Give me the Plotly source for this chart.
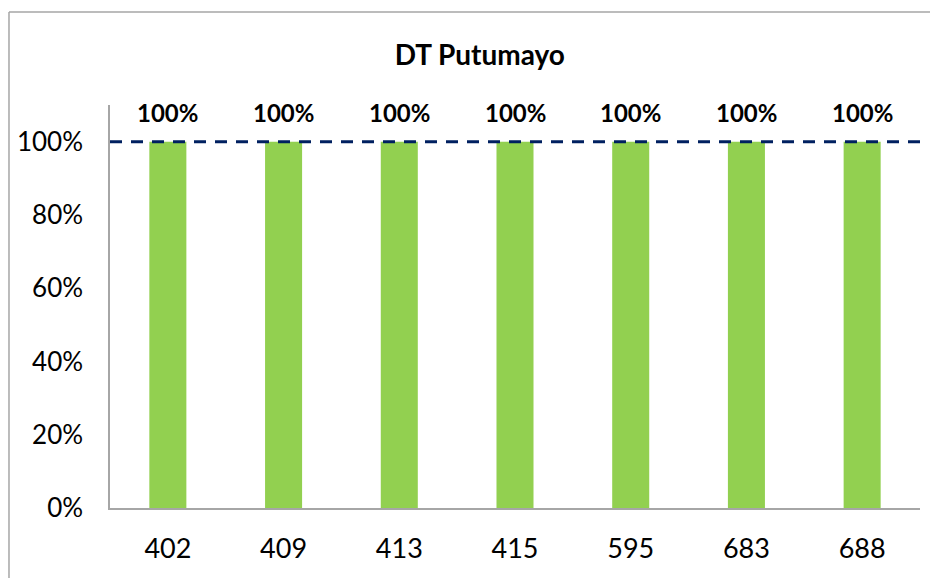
import plotly.graph_objects as go

categories = ["402", "409", "413", "415", "595", "683", "688"]
values = [1.0, 1.0, 1.0, 1.0, 1.0, 1.0, 1.0]
labels = ["100%"] * 7
target = 1.0
y_ticks = [0, 0.2, 0.4, 0.6, 0.8, 1.0]
y_tick_labels = ["0%", "20%", "40%", "60%", "80%", "100%"]

FONT = "Lato, 'Open Sans', sans-serif"

fig = go.Figure()
fig.add_trace(go.Bar(
    x=categories, y=values,
    marker=dict(color="#92D050", line=dict(width=0)),
    width=0.32,
    hoverinfo="skip",
))

for i, (v, t) in enumerate(zip(values, labels)):
    fig.add_annotation(x=i, y=v, xref="x", yref="y", text="<b>%s</b>" % t, showarrow=False,
                       yshift=29, font=dict(size=24, color="black", family=FONT))

# target dashed line
fig.add_shape(type="line", xref="paper", yref="y", x0=0, x1=1, y0=target, y1=target,
              line=dict(color="#002060", width=3, dash="12px,9px"))

# outer chart border: only left and top edges are visible in the frame
border = dict(color="#A6A6A6", width=1.5)
fig.add_shape(type="line", xref="paper", yref="paper", x0=-0.1247, x1=-0.1247, y0=-0.3, y1=1.2308,
              line=border, layer="below")
fig.add_shape(type="line", xref="paper", yref="paper", x0=-0.1247, x1=1.3, y0=1.2308, y1=1.2308,
              line=border, layer="below")

fig.update_layout(
    width=938, height=578,
    margin=dict(l=102, r=26, t=97, b=78, autoexpand=False),
    paper_bgcolor="white", plot_bgcolor="white",
    showlegend=False,
    title=dict(text="<b>DT Putumayo</b>", x=0.503, xanchor="center", xref="container",
               y=0.919, yanchor="middle", yref="container",
               font=dict(size=28, color="black", family=FONT)),
    font=dict(family=FONT, color="black"),
    xaxis=dict(type="category", range=[-0.5, 6.5], showline=True, linecolor="#A6A6A6",
               linewidth=1.5, ticks="", tickfont=dict(size=27, family=FONT), showgrid=False,
               ticklabelstandoff=16, automargin=False),
    yaxis=dict(range=[0, 1.1], tickvals=y_ticks, ticktext=y_tick_labels,
               showline=True, linecolor="#A6A6A6", linewidth=1.5, ticks="",
               tickfont=dict(size=26, family=FONT), showgrid=False, zeroline=False,
               ticklabelstandoff=20, automargin=False),
)

fig.write_html("out.html")
